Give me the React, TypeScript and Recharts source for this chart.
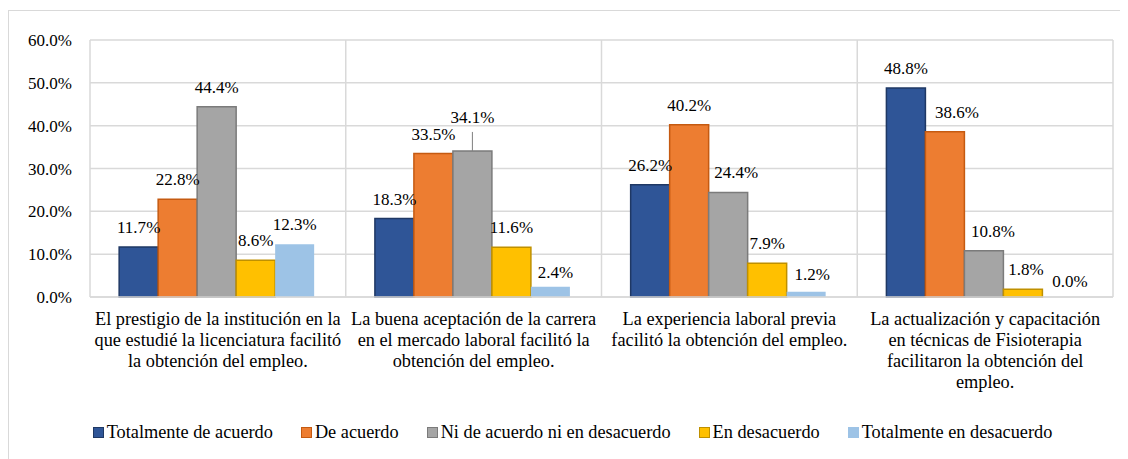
import React from 'react';
import {
  BarChart,
  Bar,
  XAxis,
  YAxis,
  CartesianGrid,
  Legend
} from 'recharts';

const categories = [
  'El prestigio de la institución en la\nque estudié la licenciatura facilitó\nla obtención del empleo.',
  'La buena aceptación de la carrera\nen el mercado laboral facilitó la\nobtención del empleo.',
  'La experiencia laboral previa\nfacilitó la obtención del empleo.',
  'La actualización y capacitación\nen técnicas de Fisioterapia\nfacilitaron la obtención del\nempleo.'
];

const totalmenteDeAcuerdo = [11.7, 18.3, 26.2, 48.8];
const deAcuerdo = [22.8, 33.5, 40.2, 38.6];
const niDeAcuerdoNiEnDesacuerdo = [44.4, 34.1, 24.4, 10.8];
const enDesacuerdo = [8.6, 11.6, 7.9, 1.8];
const totalmenteEnDesacuerdo = [12.3, 2.4, 1.2, 0.0];

const yTicks = [0, 10, 20, 30, 40, 50, 60];

const FONT = '"Liberation Serif", "Times New Roman", serif';
const NUM_FS = 17; // numbers (ticks, data labels)
const TXT_FS = 18.3; // category labels and legend
const GRID = '#d9d9d9';

const series = [
  { key: 'tda', name: 'Totalmente de acuerdo', values: totalmenteDeAcuerdo, fill: '#2F5597', stroke: '#1F3864' },
  { key: 'da', name: 'De acuerdo', values: deAcuerdo, fill: '#ED7D31', stroke: '#C55A11' },
  { key: 'ni', name: 'Ni de acuerdo ni en desacuerdo', values: niDeAcuerdoNiEnDesacuerdo, fill: '#A5A5A5', stroke: '#7B7B7B' },
  { key: 'ed', name: 'En desacuerdo', values: enDesacuerdo, fill: '#FFC000', stroke: '#BF9000' },
  { key: 'ted', name: 'Totalmente en desacuerdo', values: totalmenteEnDesacuerdo, fill: '#9DC3E6', stroke: 'none' }
];

const data = categories.map((name, i) => {
  const row: Record<string, string | number> = { name };
  series.forEach((s) => {
    row[s.key] = s.values[i];
  });
  return row;
});

// boundaries between categories, used for the vertical grid lines
const boundaries = Array.from({ length: categories.length + 1 }, (_, i) => i);

// hand-placed label nudges (dx, dy, leader line), like the original
const labelNudges: Record<string, Record<number, { dx: number; dy: number; leader?: boolean }>> = {
  ni: { 1: { dx: 0, dy: -14, leader: true }, 2: { dx: 8, dy: 0 }, 3: { dx: 9, dy: 0 } },
  ted: { 1: { dx: 5, dy: 5 }, 2: { dx: 6, dy: 2 }, 3: { dx: 8, dy: 4 } },
  da: { 3: { dx: 12, dy: 0 } },
  ed: { 3: { dx: 3, dy: 0 } }
};

const makeLabel = (key: string) => (props: any) => {
  const { x, y, width, value, index } = props;
  const nudge = (labelNudges[key] && labelNudges[key][index]) || { dx: 0, dy: 0 };
  const cx = Number(x) + Number(width) / 2;
  const top = Number(y);
  return (
    <g key={`${key}-${index}`}>
      {nudge.leader && (
        <line x1={cx} x2={cx} y1={top - 19} y2={top} stroke="#7F7F7F" strokeWidth={1} />
      )}
      <text
        x={cx + nudge.dx}
        y={top - 14 + nudge.dy}
        textAnchor="middle"
        fontFamily={FONT}
        fontSize={NUM_FS}
        fill="#000"
      >
        {Number(value).toFixed(1)}%
      </text>
    </g>
  );
};

const CategoryTick = (props: any) => {
  const { x, y, payload } = props;
  const lines = String(payload.value).split('\n');
  return (
    <text x={x} y={y} textAnchor="middle" fontFamily={FONT} fontSize={TXT_FS} fill="#000">
      {lines.map((line, i) => (
        <tspan key={i} x={x} dy={i === 0 ? 20 : 21}>
          {line}
        </tspan>
      ))}
    </text>
  );
};

const LegendContent = () => (
  <div
    style={{
      display: 'flex',
      justifyContent: 'center',
      gap: 28,
      fontFamily: FONT,
      fontSize: TXT_FS,
      height: 22,
      lineHeight: '22px',
      color: '#000',
      paddingLeft: 23
    }}
  >
    {series.map((s) => (
      <div key={s.key} style={{ display: 'flex', alignItems: 'center' }}>
        <span
          style={{
            display: 'inline-block',
            width: 9,
            height: 9,
            background: s.fill,
            border: `1px solid ${s.stroke === 'none' ? s.fill : s.stroke}`,
            marginRight: 3
          }}
        />
        <span>{s.name}</span>
      </div>
    ))}
  </div>
);

export default function App() {
  return (
    <div
      style={{
        marginTop: 2,
        width: 1119,
        height: 449,
        borderTop: `1px solid ${GRID}`,
        borderLeft: `1px solid ${GRID}`,
        background: '#fff'
      }}
    >
      <BarChart
        width={1119}
        height={448}
        data={data}
        margin={{ top: 29, right: 15, bottom: 16, left: 0 }}
        barCategoryGap="11.4%"
        barGap={0}
      >
        <CartesianGrid
          stroke={GRID}
          strokeWidth={1.5}
          verticalCoordinatesGenerator={({ offset }: any) =>
            boundaries.map((b) => offset.left + (b * offset.width) / categories.length)
          }
        />
        <XAxis
          dataKey="name"
          interval={0}
          tick={<CategoryTick />}
          tickLine={false}
          axisLine={{ stroke: GRID, strokeWidth: 1.5 }}
          height={124}
        />
        <YAxis
          domain={[0, 60]}
          ticks={yTicks}
          tickFormatter={(v: number) => `${v.toFixed(1)}%`}
          tick={{ fontFamily: FONT, fontSize: NUM_FS, fill: '#000' }}
          tickLine={false}
          axisLine={false}
          tickMargin={12}
          width={81}
        />
        {series.map((s) => (
          <Bar
            key={s.key}
            dataKey={s.key}
            name={s.name}
            fill={s.fill}
            stroke={s.stroke}
            strokeWidth={1.5}
            minPointSize={(v: number) => (v === 0 ? 0.01 : 0)}
            isAnimationActive={false}
            label={makeLabel(s.key)}
          />
        ))}
        <Legend verticalAlign="bottom" height={22} content={<LegendContent />} />
      </BarChart>
    </div>
  );
}
